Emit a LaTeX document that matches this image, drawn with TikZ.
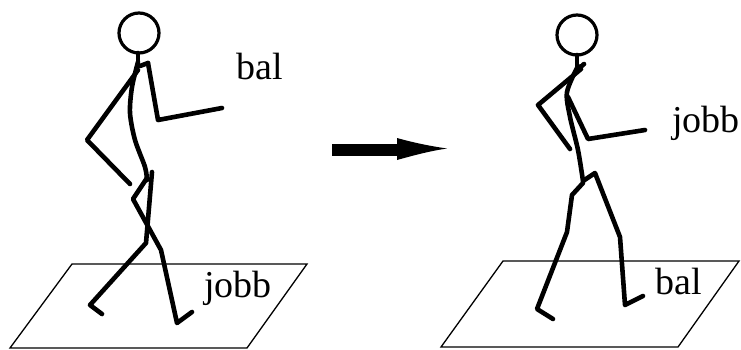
\documentclass[tikz,border=0pt]{standalone}
\usepackage{fontspec}
\setmainfont{Liberation Serif}
\begin{document}
\begin{tikzpicture}[x=1pt,y=-1pt,
  limb/.style={line width=4.6pt,line cap=round,line join=round},
  headc/.style={line width=3.2pt},
  floorline/.style={line width=1.3pt,line join=miter},
  lbl/.style={anchor=base west,inner sep=0pt,font=\fontsize{38}{40}\selectfont}]
\useasboundingbox (0,0) rectangle (741,349);
% ---------- left figure ----------
\draw[floorline] (72,264) -- (307,264) -- (247,348) -- (10,348) -- cycle;
\draw[headc] (139,33) circle (20);
\draw[limb] (138,53) -- (138,66);
\draw[limb] plot[smooth] coordinates {(138,62) (132,87) (130,113) (135,140) (145,167) (147,180)};
\draw[limb] (140,66) -- (148,63);
\draw[limb] (148,63) -- (158,120) -- (222,108);
\draw[limb] (138,70) -- (87,140) -- (130,184);
\draw[limb] (152,172) -- (146,243) -- (90,305) -- (102,314);
\draw[limb] (147,178) -- (133,199) -- (161,250) -- (177,323) -- (192,312);
\node[lbl] (lbal) at (236,79) {bal};
\node[lbl] (ljobb) at (204,297) {jobb};
% ---------- arrow ----------
\fill (332,143.5) rectangle (400,155.5);
\fill (397,138) .. controls (415,143) and (430,146) .. (447,148.5)
      .. controls (430,151) and (415,155) .. (397,160) -- cycle;
% ---------- right figure ----------
\draw[floorline] (503,261) -- (739,261) -- (678,347) -- (441,347) -- cycle;
\draw[headc] (577,35) circle (20);
\draw[limb] (577,55) -- (577,67);
\draw[limb] (576,71) -- (584,64);
\draw[limb] plot[smooth] coordinates {(578,66) (567,92) (570,117) (578,150) (583,181)};
\draw[limb] (581,69) -- (538,105) -- (570,149);
\draw[limb] (568,97) -- (588,139) -- (645,130);
\draw[limb] (583,181) -- (595,173) -- (620,237) -- (625,305) -- (643,296);
\draw[limb] (583,183) -- (572,195) -- (567,232) -- (537,309) -- (553,319);
\node[lbl] (rjobb) at (672,132) {jobb};
\node[lbl] (rbal) at (655,294) {bal};
\end{tikzpicture}
\end{document}
